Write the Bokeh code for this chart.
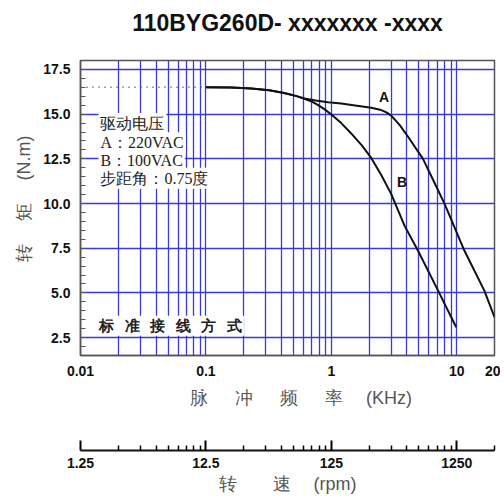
from bokeh.plotting import figure
from bokeh.models import (Range1d, LogScale, LogAxis, FixedTicker, SingleIntervalTicker,
                          PrintfTickFormatter, Title)
from bokeh.core.properties import value
from bokeh.embed import file_html
from bokeh.resources import INLINE

# ---- data ----
title_text = "110BYG260D- xxxxxxx -xxxx"
freq_A = [0.1, 0.16, 0.23, 0.32, 0.42, 0.52, 0.61, 0.75, 0.94, 1.2, 1.5, 2.08, 2.45, 2.75, 3.0,
          3.5, 4.08, 5.38, 6.5, 8.0, 11.5, 16.6, 20.0]
torque_A = [16.5, 16.49, 16.44, 16.33, 16.18, 16.02, 15.88, 15.76, 15.67, 15.59, 15.5, 15.36,
            15.25, 15.1, 14.92, 14.4, 13.75, 12.5, 11.3, 9.98, 7.37, 5.13, 3.64]
freq_B = [0.1, 0.16, 0.23, 0.32, 0.42, 0.52, 0.61, 0.7, 0.78, 0.88, 1.0, 1.2, 1.44, 1.75, 2.08,
          2.5, 3.0, 3.84, 4.9, 7.1, 9.9]
torque_B = [16.5, 16.49, 16.44, 16.33, 16.18, 16.02, 15.86, 15.7, 15.52, 15.28, 14.98, 14.5,
            13.92, 13.25, 12.55, 11.6, 10.54, 8.75, 7.37, 5.13, 3.08]
freq_ticks = [0.01, 0.1, 1, 10, 20]
freq_labels = ["0.01", "0.1", "1", "10", "20"]
freq_grid = [m * 10 ** d for d in (-2, -1, 0) for m in range(2, 11)]
rpm_ticks = [1.25, 12.5, 125, 1250]
rpm_labels = ["1.25", "12.5", "125", "1250"]
rpm_minor = [m * 1.25 * 10 ** d for d in (0, 1, 2) for m in range(2, 10)] + [2500]
note_lines = ["驱动电压", "A：220VAC", "B：100VAC", "步距角：0.75度"]
note_y = [14.48, 13.4, 12.42, 11.42]
note_x = 0.0139
wiring_text = "标\u2002\u2009准\u2002\u2009接\u2002\u2009线\u2002\u2009方\u2002\u2009式"

GRID = "#3a3ad8"

p = figure(width=500, height=498, x_axis_type="log", x_range=Range1d(0.01, 20),
           y_range=Range1d(1.5, 18), output_backend="svg", toolbar_location=None,
           min_border_left=80, min_border_right=6, min_border_top=60, min_border_bottom=143)
# spacer title (closest to the plot) then the real title above it
p.add_layout(Title(text="\u00a0", text_font_size="10px", standoff=10), "above")
p.add_layout(Title(text=title_text, align="center", text_font="Liberation Sans",
                   text_font_size="23px", text_font_style="bold", text_color="#111111",
                   standoff=4), "above")

p.outline_line_color = "#555555"
p.outline_line_width = 1.5

# grids
p.xgrid.ticker = FixedTicker(ticks=freq_grid)
p.xgrid.grid_line_color = GRID
p.xgrid.grid_line_width = 1.3
p.ygrid.grid_line_color = GRID
p.ygrid.grid_line_width = 1.3

# y axis
ya = p.yaxis[0]
ya.ticker = SingleIntervalTicker(interval=2.5, num_minor_ticks=5)
ya.formatter = PrintfTickFormatter(format="%.1f")
ya.major_tick_in = 5
ya.major_tick_out = 0
ya.minor_tick_in = 5
ya.minor_tick_out = 0
ya.major_label_standoff = 10
ya.major_label_text_font = "Liberation Sans"
ya.major_label_text_font_style = "bold"
ya.major_label_text_font_size = "14px"
ya.major_label_text_color = "#111111"
ya.axis_line_color = "#555555"
ya.axis_line_width = 1.5
ya.major_tick_line_color = "#555555"
ya.minor_tick_line_color = "#555555"
ya.axis_label = "\u3000转\u3000 矩\u3000 (N.m)"
ya.axis_label_text_font = "Liberation Sans"
ya.axis_label_text_font_size = "18px"
ya.axis_label_text_font_style = "normal"
ya.axis_label_text_color = "#555555"
ya.axis_label_standoff = 6

# x axis (frequency)
xa = p.xaxis[0]
xa.ticker = FixedTicker(ticks=freq_ticks, minor_ticks=[])
xa.major_label_overrides = dict(zip(freq_ticks, freq_labels))
xa.major_tick_in = 0
xa.major_tick_out = 0
xa.minor_tick_in = 0
xa.minor_tick_out = 0
xa.axis_line_color = "#555555"
xa.axis_line_width = 1.5
xa.major_label_standoff = 10
xa.major_label_text_font = "Liberation Sans"
xa.major_label_text_font_style = "bold"
xa.major_label_text_font_size = "14px"
xa.major_label_text_color = "#111111"
xa.axis_label = "\u3000\u2002脉\u3000\u2002冲\u3000\u2002频\u3000\u2002率\u3000 (KHz)\n "
xa.axis_label_text_font = "Liberation Sans"
xa.axis_label_text_font_size = "18px"
xa.axis_label_text_font_style = "normal"
xa.axis_label_text_color = "#555555"
xa.axis_label_text_line_height = 2.0
xa.axis_label_standoff = 9

# rpm axis
p.extra_x_ranges = {"rpm": Range1d(1.25, 2500)}
p.extra_x_scales = {"rpm": LogScale()}
ra = LogAxis(x_range_name="rpm")
ra.ticker = FixedTicker(ticks=rpm_ticks, minor_ticks=rpm_minor)
ra.major_label_overrides = dict(zip(rpm_ticks, rpm_labels))
ra.major_tick_in = 10
ra.major_tick_out = 0
ra.minor_tick_in = 5
ra.minor_tick_out = 0
ra.axis_line_width = 2
ra.axis_line_color = "#111111"
ra.major_tick_line_width = 2
ra.minor_tick_line_width = 1.5
ra.major_label_standoff = 7
ra.major_label_text_font = "Liberation Sans"
ra.major_label_text_font_style = "bold"
ra.major_label_text_font_size = "14px"
ra.major_label_text_color = "#111111"
ra.axis_label = "转\u3000\u3000速\u3000 (rpm)"
ra.axis_label_text_font = "Liberation Sans"
ra.axis_label_text_font_size = "18px"
ra.axis_label_text_font_style = "normal"
ra.axis_label_text_color = "#555555"
ra.axis_label_standoff = 3
p.add_layout(ra, "below")

# curves
p.line([p.x_range.start, freq_A[0]], [torque_A[0], torque_A[0]], line_color="#444444",
       line_width=1.5, line_dash="1 5")
p.line(freq_A, torque_A, line_color="#111111", line_width=2)
p.line(freq_B, torque_B, line_color="#111111", line_width=2)

p.text(x=[2.63], y=[15.95], text=["A"], text_font=value("Liberation Sans"), text_font_style="bold",
       text_font_size="14px", text_align="center", text_baseline="middle", text_color="#111111")
p.text(x=[3.66], y=[11.2], text=["B"], text_font=value("Liberation Sans"), text_font_style="bold",
       text_font_size="14px", text_align="center", text_baseline="middle", text_color="#111111")

# notes with white backgrounds
p.text(x=[note_x] * len(note_lines), y=note_y, text=note_lines,
       text_font=value("Liberation Serif"), text_font_size="16px", text_align="left",
       text_baseline="middle", text_color="#222222", background_fill_color="white",
       padding=2)
p.text(x=[0.01365], y=[3.17], text=[wiring_text], text_font=value("Liberation Serif"),
       text_font_size="15px", text_font_style="bold", text_align="left",
       text_baseline="middle", text_color="#222222", background_fill_color="white", padding=2)

open("out.html", "w").write(file_html(p, INLINE))
